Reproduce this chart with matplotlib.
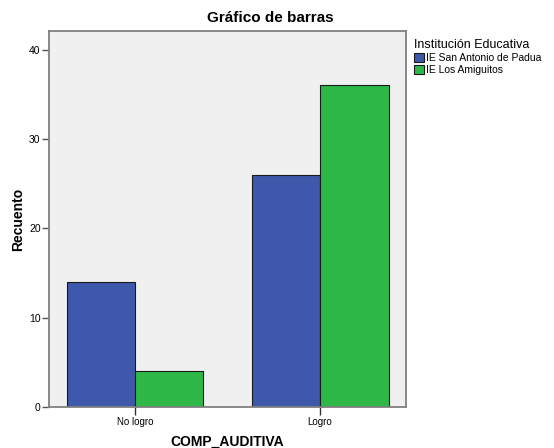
import matplotlib.pyplot as plt
import numpy as np

plt.rcParams['font.family'] = ['Liberation Sans', 'DejaVu Sans']

categorias = ['No logro', 'Logro']
san_antonio = [14, 26]
los_amiguitos = [4, 36]
series = ['IE San Antonio de Padua', 'IE Los Amiguitos']
colores = ['#3e58ac', '#2eb848']

fig = plt.figure(figsize=(5.54, 4.48), dpi=100)
ax = fig.add_axes([0.0884, 0.0915, 0.6446, 0.8393])
ax.set_facecolor('#f0f0f0')

x = np.arange(len(categorias))
w = 0.37
ax.bar(x - w / 2, san_antonio, w, color=colores[0], edgecolor='#1a1a1a',
       linewidth=0.8, label=series[0])
ax.bar(x + w / 2, los_amiguitos, w, color=colores[1], edgecolor='#1a1a1a',
       linewidth=0.8, label=series[1])

ax.set_xlim(-0.465, 1.465)
ax.set_ylim(0, 42.1)
ax.set_xticks(x)
ax.set_xticklabels(categorias, fontsize=7)
ax.set_yticks([0, 10, 20, 30, 40])
ax.tick_params(axis='y', labelsize=7.5, length=5, width=1, color='#555555', pad=1)
ax.tick_params(axis='x', length=6, width=1, color='#333333', pad=1)
for s in ax.spines.values():
    s.set_color('#808080')
    s.set_linewidth(1.3)

ax.set_xlabel('COMP_AUDITIVA', fontsize=10, fontweight='bold', labelpad=6)
ax.set_ylabel('Recuento', fontsize=10, fontweight='bold', va='center')
ax.yaxis.set_label_coords(-0.087, 0.5)
fig.text(270 / 554, 1 - 18 / 448, 'Gráfico de barras', fontsize=11,
         fontweight='bold', ha='center', va='center')

leg = ax.legend(loc='upper left', bbox_to_anchor=(1.0, 1.0), frameon=False,
                title='Institución Educativa', title_fontsize=9, fontsize=7.5,
                handlelength=0.9, handleheight=1.0, handletextpad=0.2,
                labelspacing=0.15, borderaxespad=0.4, alignment='left')
for h in leg.legend_handles:
    h.set_edgecolor('#1a1a1a')

fig.savefig('out.png', dpi=100)
